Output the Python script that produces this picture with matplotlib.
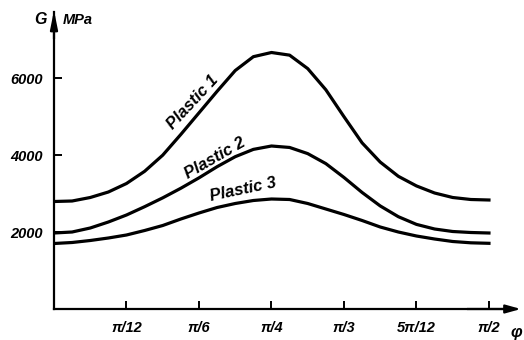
import matplotlib.pyplot as plt
import numpy as np

# angle phi in steps of pi/48, shear modulus G in MPa
phi = np.arange(25) * np.pi / 48
plastic1 = [2795, 2808, 2899, 3042, 3263, 3580, 4000, 4540, 5100, 5660, 6200, 6560, 6669,
            6600, 6250, 5700, 5000, 4320, 3820, 3450, 3200, 3016, 2899, 2847, 2834]
plastic2 = [1976, 2002, 2106, 2262, 2444, 2660, 2890, 3140, 3410, 3700, 3960, 4150, 4238,
            4200, 4040, 3780, 3420, 3030, 2680, 2400, 2200, 2080, 2015, 1989, 1976]
plastic3 = [1703, 1729, 1781, 1846, 1924, 2041, 2171, 2340, 2496, 2639, 2743, 2821, 2860,
            2847, 2743, 2600, 2457, 2301, 2132, 2002, 1898, 1820, 1755, 1721, 1708]

xticks = np.arange(1, 7) * np.pi / 12
xlabels = ["π/12", "π/6", "π/4", "π/3", "5π/12", "π/2"]
yticks = [2000, 4000, 6000]

font = dict(family=["Liberation Sans Narrow", "Liberation Sans", "DejaVu Sans"],
            weight="bold", style="italic")

fig = plt.figure(figsize=(5.24, 3.40), dpi=100)
ax = fig.add_axes([54/524, 31/340, 456/524, 297/340])
ax.set_xlim(0, 456/276.9)
ax.set_ylim(0, 297*26)

for g in [plastic1, plastic2, plastic3]:
    ax.plot(phi, g, color="k", lw=2.3, solid_joinstyle="round")

for s in ["top", "right"]:
    ax.spines[s].set_visible(False)
for s in ["left", "bottom"]:
    ax.spines[s].set_linewidth(1.6)

ax.set_xticks(xticks)
ax.set_xticklabels(xlabels, **font, fontsize=10.5)
ax.set_yticks(yticks)
ax.set_yticklabels([str(v) for v in yticks], **font, fontsize=10.5)
ax.tick_params(direction="in", length=6, width=1.4, pad=8)
ax.tick_params(axis="x", pad=9)

# axis arrows
ax.annotate("", xy=(1.03, 0), xytext=(0.9, 0), xycoords="axes fraction",
            arrowprops=dict(arrowstyle="-|>,head_length=0.9,head_width=0.25", color="k", lw=1.6))
ax.annotate("", xy=(0, 1.015), xytext=(0, 0.9), xycoords="axes fraction",
            arrowprops=dict(arrowstyle="-|>,head_length=1.1,head_width=0.22", color="k", lw=1.6))

fig.text(40/524, 1 - 20/340, "G", **font, fontsize=11.5, ha="center", va="center")
fig.text(63/524, 1 - 20/340, "MPa", **font, fontsize=10.5, ha="left", va="center")
fig.text(516/524, 1 - 333/340, "φ", **font, fontsize=12, ha="center", va="center")

ax.text(0.502, 5380, "Plastic 1", **font, fontsize=12, rotation=47, ha="center", va="center")
ax.text(0.581, 3926, "Plastic 2", **font, fontsize=12, rotation=30, ha="center", va="center")
ax.text(0.682, 3094, "Plastic 3", **font, fontsize=12, rotation=12, ha="center", va="center")

fig.savefig("out.png", dpi=100)
